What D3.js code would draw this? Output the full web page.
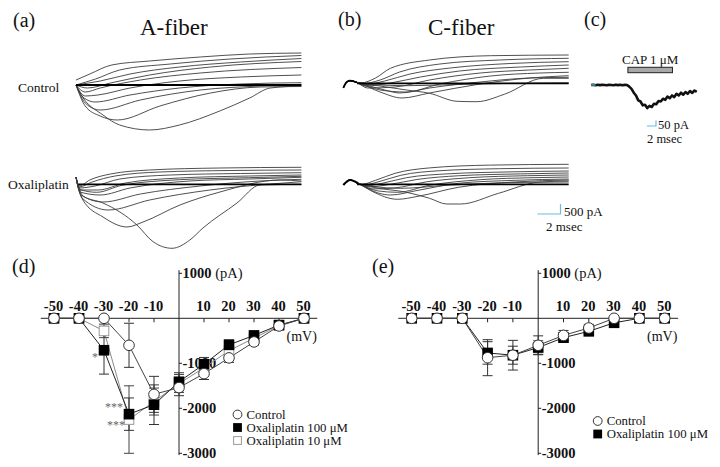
<!DOCTYPE html>
<html><head><meta charset="utf-8">
<script src="https://cdn.jsdelivr.net/npm/d3@7"></script>
<style>body{margin:0;background:#fff} svg{display:block} text{font-family:"Liberation Serif","Times New Roman",serif;}</style>
</head><body><script>
// ---------- IV data (panel d: A-fiber) ----------
const voltages = [-50,-40,-30,-20,-10,0,10,20,30,40,50];
const xTickLabels = ["-50","-40","-30","-20","-10","10","20","30","40","50"];
const xTickVals = [-50,-40,-30,-20,-10,10,20,30,40,50];
const yTickVals = [1000,-1000,-2000,-3000];
const dControl    = [0,0,0,-600,-1690,-1540,-1230,-880,-525,-170,0];
const dControlErr = [0,0,0,490,400,180,130,100,70,50,0];
const dOxa100     = [0,0,-710,-2130,-1920,-1410,-1020,-590,-380,-150,0];
const dOxa100Err  = [0,0,530,360,440,200,150,110,80,50,0];
const dOxa10      = [0,0,-280,-2250,-1850,-1450,-1100,-720,-440,-160,0];
const dOxa10Err   = [0,0,150,750,300,200,140,110,80,50,0];
// ---------- IV data (panel e: C-fiber) ----------
const eControl    = [0,0,0,-875,-820,-600,-380,-215,0,0,0];
const eControlErr = [0,0,0,400,330,210,110,80,0,0,0];
const eOxa100     = [0,0,0,-770,-820,-650,-430,-290,-100,0,0];
const eOxa100Err  = [0,0,0,250,200,150,100,60,40,0,0];
const legendD = ["Control","Oxaliplatin 100 \u03bcM","Oxaliplatin 10 \u03bcM"];
const legendE = ["Control","Oxaliplatin 100 \u03bcM"];

// ---------- current traces [ms, pA] ----------
const aCtrl = [
 [[0,250],[1.2,550],[3.1,1000],[6.4,1200],[10.8,1400],[15.1,1550],[19.6,1600]],
 [[0,0],[1.7,300],[3.8,750],[8.2,1050],[13.4,1300],[19.6,1475]],
 [[0,0],[2.1,200],[4.7,550],[9.0,900],[14.3,1150],[19.6,1325]],
 [[0,0],[1.0,-150],[3.0,100],[6.4,500],[11.7,900],[19.6,1175]],
 [[0,0],[0.8,-350],[2.1,-150],[5.6,250],[10.8,600],[19.6,875]],
 [[0,0],[0.8,-550],[1.9,-500],[4.7,-150],[9.0,200],[14.3,400],[19.6,500]],
 [[0,0],[0.7,-650],[1.65,-850],[4.7,-500],[9.0,-150],[14.3,50],[19.6,115]],
 [[0,0],[0.8,-900],[2.1,-1250],[5.6,-750],[10.8,-250],[16,-50],[19.6,35]],
 [[0,0],[0.8,-1050],[2.1,-1550],[3.6,-1750],[7.3,-1050],[11.7,-400],[16,-100],[19.6,-75]],
 [[0,0],[0.35,-400],[2.35,-1500],[3.8,-2000],[6.4,-2250],[9.0,-2000],[12.5,-1300],[15.1,-650],[16.9,-150],[19.6,-50]]
];
const aOxa = [
 [[0,365],[0.26,-85],[1.2,215],[3.0,515],[6.4,715],[12.5,815],[19.6,850]],
 [[0,365],[0.26,-135],[1.4,115],[3.4,415],[7.3,615],[13.4,690],[19.6,715]],
 [[0,365],[0.26,-185],[1.65,-85],[3.8,265],[8.2,465],[14.3,540],[19.6,580]],
 [[0,365],[0.35,-285],[1.9,-285],[4.3,65],[9.0,315],[15.1,415],[19.6,465]],
 [[0,365],[0.3,-250],[1.8,-400],[4.0,-50],[9.0,230],[15,330],[19.6,400]],
 [[0,365],[0.35,-385],[2.1,-535],[4.7,-185],[9.9,165],[15.1,265],[19.6,350]],
 [[0,365],[0.43,-535],[2.35,-885],[5.6,-485],[10.8,-85],[16,165],[19.6,250]],
 [[0,365],[0.52,-685],[2.8,-1285],[6.4,-785],[11.65,-285],[16.9,15],[19.6,130]],
 [[0,365],[0.6,-785],[2.35,-1635],[4.43,-2135],[5.83,-1885],[9.04,-1035],[12.52,-385],[17.74,215],[19.6,165]],
 [[0,365],[0.61,-585],[2.35,-935],[5.3,-2035],[6.7,-2870],[8.35,-3200],[9.9,-2785],[11.04,-2185],[14,-935],[16,-35],[19.6,0]]
];
const cHumpCtrl = [[0,-235],[0.3,65],[0.6,130],[1.2,40]];
const cCtrl = [
 [[1.5,15],[2.8,265],[4.1,750],[7.5,1165],[12.8,1380],[19.6,1415]],
 [[1.5,-35],[3.2,165],[4.9,565],[8.4,965],[13.6,1165],[19.6,1250]],
 [[1.6,-85],[3.6,115],[5.8,465],[9.3,765],[14.5,990],[19.6,1080]],
 [[1.9,-135],[4.1,15],[6.7,315],[10.1,615],[15.4,815],[19.6,915]],
 [[2.1,-235],[4.5,-185],[7.5,165],[11.9,515],[16.2,665],[19.6,750]],
 [[3.2,-335],[5.4,-435],[8.4,-35],[12.8,365],[17.1,515],[19.6,550]],
 [[3.2,-435],[5.1,-735],[7.5,-485],[11.9,-35],[16.2,265],[19.6,380]],
 [[3.6,-335],[4.9,-485],[7.5,-235],[11.9,65],[16.2,265],[19.6,300]],
 [[2.6,-85],[5.5,-335],[7.5,-500],[9.9,-900],[11.6,-920],[14,-550],[17.4,250],[19.6,250]],
 [[2.5,-60],[5.5,-120],[10,-60],[15,0],[19.6,20]]
];
const cHumpOxa = [[0,-35],[0.6,215],[1.3,40]];
const cOxa = [
 [[1.6,0],[2.8,200],[4.5,550],[7.5,820],[12.8,960],[19.6,1000]],
 [[1.8,-30],[3.2,150],[5,450],[8.4,680],[13.6,780],[19.6,815]],
 [[2.0,-80],[3.6,80],[5.5,330],[9.3,530],[14.5,620],[19.6,665]],
 [[2.2,-130],[4.1,0],[6.4,240],[10.1,430],[15.4,520],[19.6,565]],
 [[2.5,-230],[4.5,-180],[7.2,120],[11,330],[16,430],[19.6,465]],
 [[3.0,-330],[4.7,-400],[7.5,-50],[11.9,230],[16.5,330],[19.6,365]],
 [[3.0,-430],[4.1,-535],[6.5,-300],[10,50],[15,200],[19.6,265]],
 [[2.5,-350],[4.7,-750],[6.5,-600],[10,-150],[15,120],[19.6,215]],
 [[2.6,-150],[5.5,-400],[7.5,-700],[9.0,-985],[10.2,-985],[13.5,-450],[17.1,115],[19.6,165]],
 [[2.5,-100],[5,-200],[9,-50],[14,80],[19.6,115]]
];
// capsaicin response (panel c)
const capTimes = d3.range(0, 24, 0.5);
const capValues = [0,3,-2,2,-1,3,0,-3,2,0,-2,3,-1,2,-3,1,0,-15,-35,-70,-95,-140,-150,-185,-180,-210,-190,-200,-170,-175,-145,-150,-125,-135,-105,-120,-95,-110,-80,-95,-70,-88,-65,-80,-55,-72,-50,-62];
const capBar = [8.2, 18.1];

// ---------- drawing ----------
const svg = d3.select("body").append("svg").attr("width",720).attr("height",467);

function text(x,y,s,size,opt={}){
  const t = svg.append("text").attr("x",x).attr("y",y).attr("font-size",size)
    .attr("fill",opt.fill||"#111").attr("text-anchor",opt.anchor||"start")
    .attr("font-weight",opt.bold?"bold":"normal").text(s);
  return t;
}

// panel labels and titles
text(13,27,"(a)",20); text(140,35,"A-fiber",23);
text(338,26,"(b)",20); text(428,35,"C-fiber",23);
text(584,26,"(c)",20);
text(12,273,"(d)",20); text(372,273,"(e)",20);
text(18,92,"Control",13.5);
text(8,189,"Oxaliplatin",13.5);

function drawTraces(traces, prefix, x0, base, t0){
  const x = d3.scaleLinear().domain([0,19.6]).range([x0, x0+19.6*11.5]);
  const y = d3.scaleLinear().domain([0,500]).range([base, base-10]);
  const line = d3.line().x(d=>x(d[0])).y(d=>y(d[1])).curve(d3.curveMonotoneX);
  const g = svg.append("g");
  traces.forEach(tr=>{
    g.append("path").attr("d", line(prefix.concat(tr))).attr("fill","none")
      .attr("stroke","#3c3c3c").attr("stroke-width",0.9);
  });
  g.append("path").attr("d", line([[t0,0],[19.6,0]])).attr("stroke","#000").attr("stroke-width",1.8);
  return {x,y,line};
}
drawTraces(aCtrl, [], 76, 85, 0);
drawTraces(aOxa, [], 76, 184.3, 0.2);
const cc = drawTraces(cCtrl, cHumpCtrl, 343.3, 83.3, 1.2);
const cb = drawTraces(cOxa, cHumpOxa, 343.3, 184.3, 1.2);
svg.append("path").attr("d", cc.line(cHumpCtrl)).attr("fill","none").attr("stroke","#000").attr("stroke-width",1.8);
svg.append("path").attr("d", cb.line(cHumpOxa)).attr("fill","none").attr("stroke","#000").attr("stroke-width",2.2);
// scale bar (b)
(function(){
  const sx = cb.x, sy = cb.y;
  const x1 = 537.5, len = sx(2)-sx(0), h = sy(0)-sy(500);
  svg.append("path").attr("d",`M${x1},214H${x1+len}V${214-h}`).attr("fill","none").attr("stroke","#6fb9e6").attr("stroke-width",1.2);
  text(564,216,"500 pA",13);
  text(546,231,"2 msec",13);
})();

// panel c
(function(){
  const x = d3.scaleLinear().domain([0,1]).range([591,595.5]);
  const y = d3.scaleLinear().domain([0,-100]).range([85,96]);
  const pts = capTimes.map((t,i)=>[t,capValues[i]]);
  svg.append("path").attr("d", d3.line().x(d=>x(d[0])).y(d=>y(d[1]))(pts))
    .attr("fill","none").attr("stroke","#111").attr("stroke-width",2.6).attr("stroke-linejoin","round");
  svg.append("path").attr("d", d3.line().x(d=>x(d[0])).y(d=>y(d[1]))(pts.slice(0,3)))
    .attr("fill","none").attr("stroke","#3b8fae").attr("stroke-width",1.6);
  svg.append("rect").attr("x",x(capBar[0])).attr("y",67.3).attr("width",x(capBar[1])-x(capBar[0])).attr("height",5.4)
    .attr("fill","#a8a8a8").attr("stroke","#222").attr("stroke-width",1);
  text((x(capBar[0])+x(capBar[1]))/2,64,"CAP 1 \u03bcM",13,{anchor:"middle"});
  const len = x(2)-x(0), h = y(-50)-y(0);
  svg.append("path").attr("d",`M${656-len},126H656V${126-h}`).attr("fill","none").attr("stroke","#6fb9e6").attr("stroke-width",1.2);
  text(658,128.5,"50 pA",12.5);
  text(647,143,"2 msec",12.5);
})();

function drawMarker(g, type, cx, cy, r){
  if(type==="circle"){
    g.append("circle").attr("cx",cx).attr("cy",cy).attr("r",r).attr("fill","#fff").attr("stroke","#333").attr("stroke-width",1);
  } else if(type==="filled"){
    g.append("rect").attr("x",cx-r).attr("y",cy-r).attr("width",2*r).attr("height",2*r).attr("fill","#000");
  } else {
    g.append("rect").attr("x",cx-r+0.5).attr("y",cy-r+0.5).attr("width",2*r-1).attr("height",2*r-1).attr("fill","#fff").attr("stroke","#9a9a9a").attr("stroke-width",1);
  }
}

// IV panels
function drawIV(cx0, pxPerMv, series, legend, legPos, extras){
  const x = d3.scaleLinear().domain([0,10]).range([cx0, cx0+10*pxPerMv]);
  const y = d3.scaleLinear().domain([0,-1000]).range([318.3,363.3]);
  const g = svg.append("g");
  g.append("line").attr("x1",x(-55.3)).attr("x2",x(55.3)).attr("y1",y(0)).attr("y2",y(0)).attr("stroke","#222").attr("stroke-width",1);
  g.append("line").attr("x1",x(0)).attr("x2",x(0)).attr("y1",y(1070)).attr("y2",y(-3040)).attr("stroke","#222").attr("stroke-width",1);
  xTickVals.forEach((v,i)=>{
    g.append("line").attr("x1",x(v)).attr("x2",x(v)).attr("y1",y(0)).attr("y2",y(0)+4).attr("stroke","#222");
    text(x(v)-0.5, y(0)-7, xTickLabels[i], 14.5, {anchor:"middle",bold:true});
  });
  yTickVals.forEach(v=>{
    g.append("line").attr("x1",x(0)).attr("x2",x(0)+3).attr("y1",y(v)).attr("y2",y(v)).attr("stroke","#222");
    const t = text(x(0)+3.5, y(v)+5, v===1000?"1000":String(v), 14.5, {bold:true});
    if(v===1000) t.append("tspan").attr("font-weight","normal").text(" (pA)");
  });
  text(x(43), y(0)+23, "(mV)", 14);
  const gl = svg.append("g"), gm = svg.append("g");
  series.forEach(s=>{
    const pts = voltages.map((v,i)=>({v, m:s.vals[i], e:s.err[i]}));
    gl.append("path").attr("d", d3.line().x(d=>x(d.v)).y(d=>y(d.m))(pts))
      .attr("fill","none").attr("stroke",s.lineColor).attr("stroke-width",1);
    pts.filter(d=>d.e>0).forEach(d=>{
      gl.append("path").attr("d",`M${x(d.v)},${y(d.m+d.e)}V${y(d.m-d.e)}M${x(d.v)-5},${y(d.m+d.e)}H${x(d.v)+5}M${x(d.v)-5},${y(d.m-d.e)}H${x(d.v)+5}`)
        .attr("fill","none").attr("stroke",s.errColor).attr("stroke-width",1);
    });
    voltages.forEach((v,i)=> drawMarker(gm, s.marker, x(v), y(s.vals[i]), 5.3));
  });
  legend.forEach((l,i)=>{
    const yy = legPos[1] + i*legPos[2];
    drawMarker(gm, l.marker, legPos[0], yy, 4.4);
    text(legPos[0]+9, yy+4.2, l.label, 12.8);
  });
  if(extras) extras(x,y);
}

drawIV(179, 2.5, [
  {vals:dOxa10, err:dOxa10Err, marker:"open", lineColor:"#8a8a8a", errColor:"#444"},
  {vals:dOxa100, err:dOxa100Err, marker:"filled", lineColor:"#222", errColor:"#333"},
  {vals:dControl, err:dControlErr, marker:"circle", lineColor:"#444", errColor:"#333"}
], [
  {label:legendD[0], marker:"circle"},
  {label:legendD[1], marker:"filled"},
  {label:legendD[2], marker:"open"}
], [237.5, 414.5, 13], ()=>{
  text(95, 361, "*", 12, {fill:"#666", anchor:"middle"});
  text(114, 411, "***", 12, {fill:"#666", anchor:"middle"});
  text(116, 429, "***", 12, {fill:"#666", anchor:"middle"});
});

drawIV(538.2, 2.53, [
  {vals:eOxa100, err:eOxa100Err, marker:"filled", lineColor:"#222", errColor:"#333"},
  {vals:eControl, err:eControlErr, marker:"circle", lineColor:"#444", errColor:"#333"}
], [
  {label:legendE[0], marker:"circle"},
  {label:legendE[1], marker:"filled"}
], [597.7, 421, 13]);
</script></body></html>
